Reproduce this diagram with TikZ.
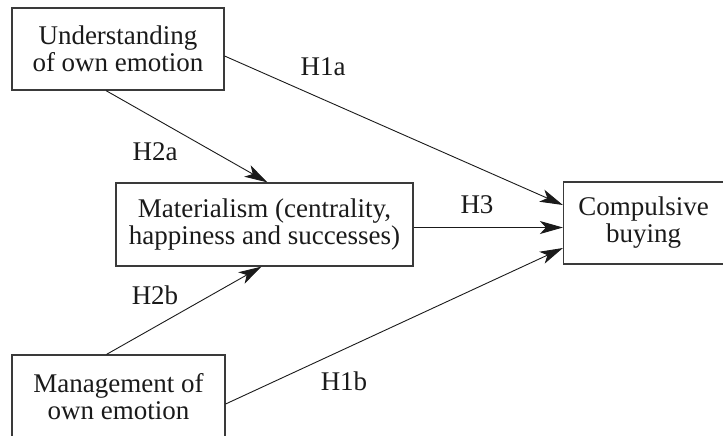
\documentclass[tikz,border=0pt]{standalone}
\usepackage{fontspec}
\setmainfont{Liberation Serif}
\usetikzlibrary{arrows.meta,positioning}
\definecolor{Ink}{HTML}{1A1A1A}
\definecolor{Frame}{HTML}{3A3A3A}

\tikzset{
  varbox/.style={draw=Frame,line width=0.6pt,align=center,text=Ink,
    font=\fontsize{13.5}{13.5}\selectfont,inner sep=0pt},
  hyplink/.style={draw=Ink,line width=0.45pt,-{Stealth[length=11.5pt,width=6.5pt,inset=3pt]}},
  hyplab/.style={font=\fontsize{13.5}{13.5}\selectfont,text=Ink}
}

\begin{document}
\begin{tikzpicture}[x=0.5pt,y=-0.5pt]
        \useasboundingbox (0,0) rectangle (723,435);
        \clip (0,0) rectangle (723,435);
        % the four constructs
        \node[varbox,minimum width=106pt,minimum height=41pt] (under) at (118,49) {Understanding\\of own emotion};
        \node[varbox,minimum width=148.5pt,minimum height=41.5pt] (mat) at (264.5,224.5) {Materialism (centrality,\\happiness and successes)};
        \node[varbox,minimum width=80pt,minimum height=41pt] (comp) at (643.5,223) {Compulsive\\buying};
        \node[varbox,minimum width=106.5pt,minimum height=41.5pt] (manage) at (118.5,396.5) {Management of\\own emotion};
        % paths
        \draw[hyplink] ([yshift=-3.5pt]under.east) -- ([yshift=9pt]comp.west);
        \draw[hyplink] ([xshift=-6pt]under.south) -- ([xshift=1.5pt]mat.north);
        \draw[hyplink] ([xshift=-6pt]manage.north) -- ([xshift=-1.5pt]mat.south);
        \draw[hyplink] ([yshift=-3.75pt]manage.east) -- ([yshift=-12.5pt]comp.west);
        \draw[hyplink] ([yshift=-1.5pt]mat.east) -- ([yshift=-1.5pt]mat.east -| comp.west);
        % hypothesis labels
        \node[hyplab] (h1a) at (323,67) {H1a};
        \node[hyplab] (h2a) at (155,152) {H2a};
        \node[hyplab] (h3) at (477,205) {H3};
        \node[hyplab] (h2b) at (155,295) {H2b};
        \node[hyplab] (h1b) at (344,381) {H1b};
\end{tikzpicture}
\end{document}
